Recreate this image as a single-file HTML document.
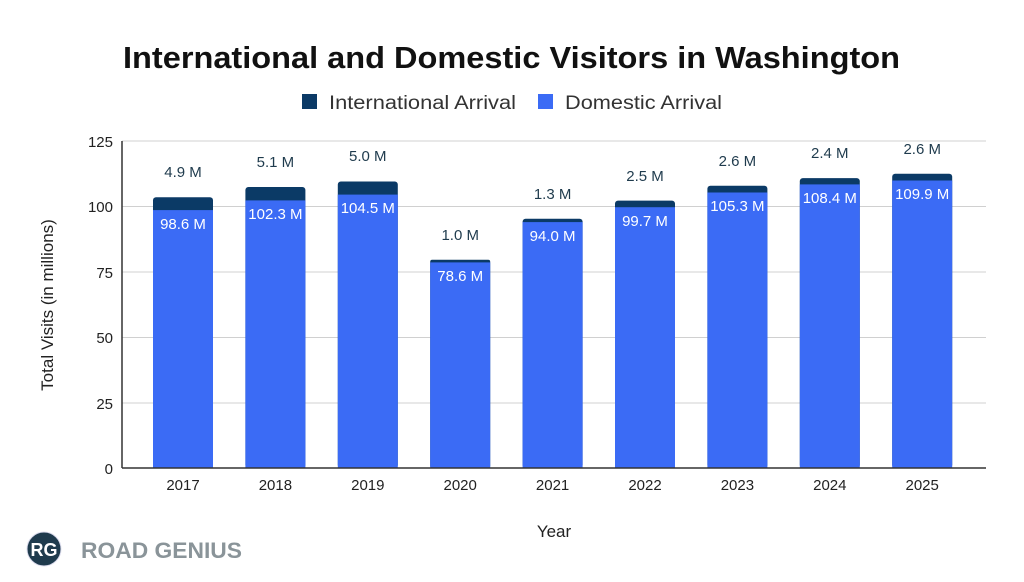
<!DOCTYPE html>
<html><head><style>body{margin:0;background:#fff}svg{display:block}text{font-family:"Liberation Sans",Arial,sans-serif}</style></head><body>
<svg width="1024" height="582" viewBox="0 0 1024 582">
<text x="123" y="68" font-size="31" font-weight="bold" fill="#111" textLength="777" lengthAdjust="spacingAndGlyphs">International and Domestic Visitors in Washington</text>
<rect x="302" y="94" width="15" height="15" fill="#0b3a66"/>
<text x="329" y="109" font-size="19" fill="#333" textLength="187" lengthAdjust="spacingAndGlyphs">International Arrival</text>
<rect x="538" y="94" width="15" height="15" fill="#3b6bf5"/>
<text x="565" y="109" font-size="19" fill="#333" textLength="157" lengthAdjust="spacingAndGlyphs">Domestic Arrival</text>
<g stroke="#d0d0d0" stroke-width="1">
<line x1="122" y1="141" x2="986" y2="141"/><line x1="122" y1="206.5" x2="986" y2="206.5"/><line x1="122" y1="272" x2="986" y2="272"/><line x1="122" y1="337.5" x2="986" y2="337.5"/><line x1="122" y1="403" x2="986" y2="403"/>
</g>
<g font-size="15" fill="#222" text-anchor="end">
<text x="113" y="147">125</text><text x="113" y="212">100</text><text x="113" y="278">75</text><text x="113" y="343">50</text><text x="113" y="409">25</text><text x="113" y="474">0</text>
</g>
<text transform="translate(53,305) rotate(-90)" text-anchor="middle" font-size="17" fill="#222">Total Visits (in millions)</text>
<g fill="#0b3a66">
<rect x="153" y="197.2" width="60" height="270.8" rx="3"/>
<rect x="245.4" y="187.0" width="60" height="281" rx="3"/>
<rect x="337.8" y="181.5" width="60" height="286.5" rx="3"/>
<rect x="430.2" y="259.8" width="60" height="208.2" rx="2"/>
<rect x="522.6" y="218.7" width="60" height="249.3" rx="3"/>
<rect x="615" y="200.6" width="60" height="267.4" rx="3"/>
<rect x="707.4" y="185.7" width="60" height="282.3" rx="3"/>
<rect x="799.8" y="178.1" width="60" height="289.9" rx="3"/>
<rect x="892.2" y="173.7" width="60" height="294.3" rx="3"/>
</g>
<g fill="#3b6bf5">
<rect x="153" y="210.1" width="60" height="257.9"/>
<rect x="245.4" y="200.4" width="60" height="267.6"/>
<rect x="337.8" y="194.6" width="60" height="273.4"/>
<rect x="430.2" y="262.4" width="60" height="205.6"/>
<rect x="522.6" y="222.1" width="60" height="245.9"/>
<rect x="615" y="207.2" width="60" height="260.8"/>
<rect x="707.4" y="192.5" width="60" height="275.5"/>
<rect x="799.8" y="184.4" width="60" height="283.6"/>
<rect x="892.2" y="180.5" width="60" height="287.5"/>
</g>
<g font-size="15" fill="#1f3b4d" text-anchor="middle">
<text x="183" y="177">4.9 M</text>
<text x="275.4" y="167">5.1 M</text>
<text x="367.8" y="161">5.0 M</text>
<text x="460.2" y="240">1.0 M</text>
<text x="552.6" y="199">1.3 M</text>
<text x="645" y="181">2.5 M</text>
<text x="737.4" y="166">2.6 M</text>
<text x="829.8" y="158">2.4 M</text>
<text x="922.2" y="154">2.6 M</text>
</g>
<g font-size="15" fill="#fff" text-anchor="middle">
<text x="183" y="229">98.6 M</text>
<text x="275.4" y="219">102.3 M</text>
<text x="367.8" y="213">104.5 M</text>
<text x="460.2" y="281">78.6 M</text>
<text x="552.6" y="241">94.0 M</text>
<text x="645" y="226">99.7 M</text>
<text x="737.4" y="211">105.3 M</text>
<text x="829.8" y="203">108.4 M</text>
<text x="922.2" y="199">109.9 M</text>
</g>
<g font-size="15" fill="#222" text-anchor="middle">
<text x="183" y="490">2017</text><text x="275.4" y="490">2018</text><text x="367.8" y="490">2019</text><text x="460.2" y="490">2020</text><text x="552.6" y="490">2021</text><text x="645" y="490">2022</text><text x="737.4" y="490">2023</text><text x="829.8" y="490">2024</text><text x="922.2" y="490">2025</text>
</g>
<line x1="122" y1="141" x2="122" y2="468" stroke="#333" stroke-width="1.5"/>
<line x1="122" y1="468" x2="986" y2="468" stroke="#333" stroke-width="1.5"/>
<text x="554" y="537" text-anchor="middle" font-size="17" fill="#222">Year</text>
<circle cx="44" cy="549" r="17" fill="#1f3b4d" stroke="#dde" stroke-width="1"/>
<text x="44" y="556" text-anchor="middle" font-size="18" font-weight="bold" fill="#fff">RG</text>
<text x="81" y="558" font-size="22" font-weight="bold" fill="#8a9499" textLength="161" lengthAdjust="spacingAndGlyphs">ROAD GENIUS</text>
</svg>
</body></html>
